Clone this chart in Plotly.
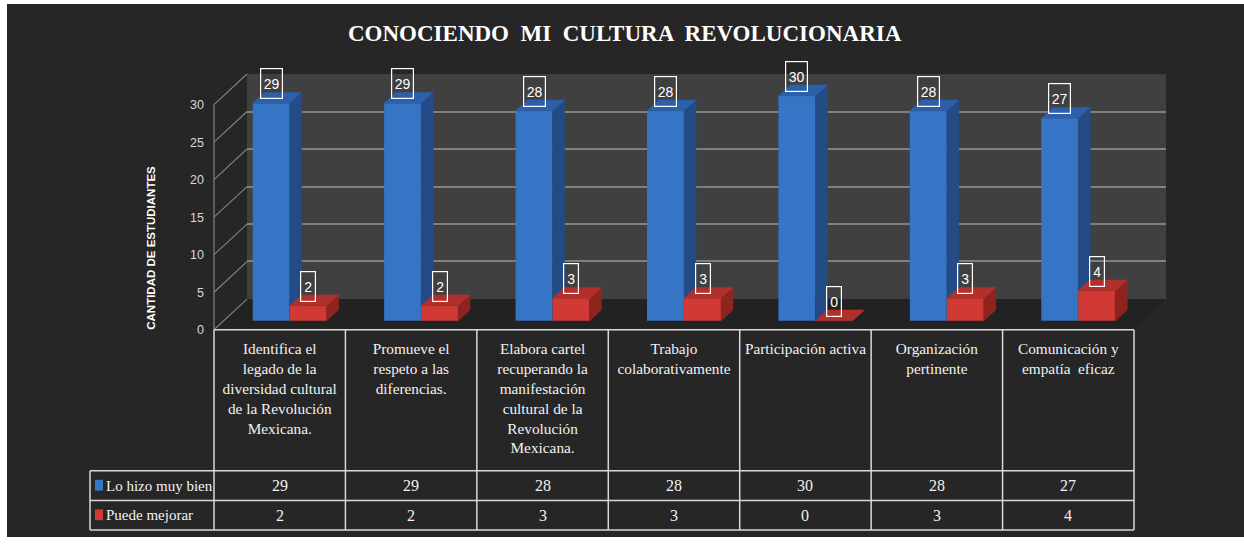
import plotly.graph_objects as go

# ---------------- data ----------------
categories = [
    "Identifica el<br>legado de la<br>diversidad cultural<br>de la Revolución<br>Mexicana.",
    "Promueve el<br>respeto a las<br>diferencias.",
    "Elabora cartel<br>recuperando la<br>manifestación<br>cultural de la<br>Revolución<br>Mexicana.",
    "Trabajo<br>colaborativamente",
    "Participación activa",
    "Organización<br>pertinente",
    "Comunicación y<br>empatía  eficaz",
]
series_names = ["Lo hizo muy bien", "Puede mejorar"]
lo_hizo_muy_bien = [29, 29, 28, 28, 30, 28, 27]
puede_mejorar = [2, 2, 3, 3, 0, 3, 4]
y_tick_values = [0, 5, 10, 15, 20, 25, 30]
title_text = "CONOCIENDO  MI  CULTURA  REVOLUCIONARIA"
y_title_text = "CANTIDAD DE ESTUDIANTES"

# ---------------- geometry helpers ----------------
W, H = 1244, 544
def X(p):
    return p / W
def Y(p):
    return 1 - p / H

S = 7.6                 # px per unit
COL = 920 / 7           # px per category
BAR_W = 37 / COL
OFFSETS = [-27 / COL, 10 / COL]
DX = 12 / COL
DY = 11 / S

styles = [
    dict(front="#3675c5", side="#234c86", top="#2c60aa"),
    dict(front="#d13a34", side="#8e2420", top="#b2302b"),
]
BG = "#262626"
WALL = "#404040"
GRID = "#808080"
FLOOR = "#222222"
TXT = "#f2f2f2"
TABLE_LINE = "#d9d9d9"

fig = go.Figure()

# back wall subplot (x / y) -> gridlines
fig.add_trace(go.Scatter(x=[None], y=[None], xaxis="x", yaxis="y",
                         showlegend=False, hoverinfo="skip"))
# front value axis (x2 / y3) -> tick labels
fig.add_trace(go.Scatter(x=[None], y=[None], xaxis="x2", yaxis="y3",
                         showlegend=False, hoverinfo="skip"))

all_series = [lo_hizo_muy_bien, puede_mejorar]
for k, (vals, off, st, name) in enumerate(zip(all_series, OFFSETS, styles, series_names)):
    xs = list(range(len(vals)))
    fig.add_trace(go.Bar(
        x=xs, y=vals, width=BAR_W, offset=off, name=name,
        marker=dict(color=st["front"], line=dict(width=0)),
        xaxis="x2", yaxis="y2", showlegend=False, hoverinfo="skip",
        zorder=2 * k,
    ))
    sx, sy, tx, ty = [], [], [], []
    for i, v in enumerate(vals):
        x0 = i + off
        x1 = x0 + BAR_W
        sx += [x1, x1 + DX, x1 + DX, x1, x1, None]
        sy += [0, DY, v + DY, v, 0, None]
        tx += [x0, x1, x1 + DX, x0 + DX, x0, None]
        ty += [v, v, v + DY, v + DY, v, None]
    fig.add_trace(go.Scatter(x=sx, y=sy, fill="toself", mode="lines",
                             line=dict(width=0.5, color=st["side"]), fillcolor=st["side"],
                             xaxis="x2", yaxis="y2", showlegend=False, hoverinfo="skip",
                             zorder=2 * k + 1))
    fig.add_trace(go.Scatter(x=tx, y=ty, fill="toself", mode="lines",
                             line=dict(width=0.5, color=st["top"]), fillcolor=st["top"],
                             xaxis="x2", yaxis="y2", showlegend=False, hoverinfo="skip",
                             zorder=2 * k + 1))

# ---------------- shapes ----------------
shapes = []
# dark chart background (white strip at top/left like the reference)
shapes.append(dict(type="rect", xref="paper", yref="paper", x0=X(7), x1=1, y0=0, y1=Y(4),
                   fillcolor=BG, line=dict(width=0), layer="below"))
# back wall
shapes.append(dict(type="rect", xref="x domain", yref="y domain", x0=0, x1=1, y0=0, y1=1,
                   fillcolor=WALL, line=dict(width=0), layer="below"))
# floor
floor_path = "M {} {} L {} {} L {} {} L {} {} Z".format(
    X(214), Y(334), X(1134), Y(334), X(1166), Y(303), X(247), Y(303))
shapes.append(dict(type="path", xref="paper", yref="paper", path=floor_path,
                   fillcolor=FLOOR, line=dict(width=0), layer="below"))
# left side wall lines
shapes.append(dict(type="line", xref="paper", yref="paper", x0=X(214), x1=X(214),
                   y0=Y(334), y1=Y(334 - 30 * S), line=dict(color=GRID, width=1.2), layer="below"))
for t in y_tick_values:
    shapes.append(dict(type="line", xref="paper", yref="paper",
                       x0=X(214), y0=Y(334 - t * S), x1=X(247), y1=Y(303 - t * S),
                       line=dict(color=GRID, width=1.2), layer="below"))

# table grid
tl = dict(color=TABLE_LINE, width=1.5)
col_edges = [214 + COL * j for j in range(len(categories) + 1)]
for j, xe in enumerate(col_edges):
    shapes.append(dict(type="line", xref="paper", yref="paper", x0=X(xe), x1=X(xe),
                       y0=Y(334), y1=Y(537), line=tl))
shapes.append(dict(type="line", xref="paper", yref="paper", x0=X(90), x1=X(90),
                   y0=Y(477), y1=Y(537), line=tl))
shapes.append(dict(type="line", xref="paper", yref="paper", x0=X(214), x1=X(1134),
                   y0=Y(334), y1=Y(334), line=tl))
for yy in (477, 507, 537):
    shapes.append(dict(type="line", xref="paper", yref="paper", x0=X(90), x1=X(1134),
                       y0=Y(yy), y1=Y(yy), line=tl))
# legend keys
row_centers = [492, 522]
for k, st in enumerate(styles):
    shapes.append(dict(type="rect", xref="paper", yref="paper",
                       x0=X(95), x1=X(103), y0=Y(row_centers[k] + 5), y1=Y(row_centers[k] - 6),
                       fillcolor=st["front"], line=dict(width=0)))

# ---------------- annotations ----------------
ann = []
ann.append(dict(text="<b>" + title_text + "</b>", xref="paper", yref="paper",
                x=X(625), y=Y(34), xanchor="center", yanchor="middle", showarrow=False,
                font=dict(family="Liberation Serif", size=23, color="#ffffff")))
ann.append(dict(text="<b>" + y_title_text + "</b>", xref="paper", yref="paper",
                x=X(151), y=Y(251), xanchor="center", yanchor="middle",
                showarrow=False, textangle=-90,
                font=dict(family="Liberation Sans", size=11.5, color="#ffffff")))
# data labels
for k, (vals, off) in enumerate(zip(all_series, OFFSETS)):
    for i, v in enumerate(vals):
        s = str(v)
        ann.append(dict(text=s, xref="x2", yref="y2", x=i + off + BAR_W / 2, y=v,
                        xanchor="center", yanchor="bottom", yshift=4, showarrow=False,
                        width=5 + 7 * len(s), height=27, borderpad=1,
                        bordercolor="#ffffff", borderwidth=1.2,
                        font=dict(family="Liberation Sans", size=14, color="#ffffff")))
# table values + legend texts
for k, (vals, name) in enumerate(zip(all_series, series_names)):
    ann.append(dict(text=name, xref="paper", yref="paper", x=X(104), y=Y(row_centers[k]),
                    xanchor="left", yanchor="middle", showarrow=False,
                    font=dict(family="Liberation Serif", size=15, color=TXT)))
    for i, v in enumerate(vals):
        ann.append(dict(text=str(v), xref="x2", yref="paper", x=i, y=Y(row_centers[k]),
                        xanchor="center", yanchor="middle", showarrow=False,
                        font=dict(family="Liberation Serif", size=16, color=TXT)))

fig.update_layout(
    width=W, height=H,
    margin=dict(l=0, r=0, t=0, b=0),
    paper_bgcolor="#ffffff",
    plot_bgcolor="rgba(0,0,0,0)",
    barmode="overlay",
    showlegend=False,
    shapes=shapes,
    annotations=ann,
    xaxis=dict(domain=[X(247), X(1166)], range=[0, 1], showgrid=False, zeroline=False,
               showticklabels=False, showline=False, fixedrange=True),
    yaxis=dict(domain=[Y(303), Y(75)], range=[-0.02, 30.02], anchor="x",
               tickvals=y_tick_values, showticklabels=False, showgrid=True,
               gridcolor=GRID, gridwidth=1.6, zeroline=False, showline=False, fixedrange=True),
    xaxis2=dict(domain=[X(214), X(1134)], range=[-0.5, len(categories) - 0.5], anchor="y2",
                tickvals=list(range(len(categories))), ticktext=categories,
                showgrid=False, zeroline=False, showline=False, ticks="",
                ticklabelstandoff=8,
                tickfont=dict(family="Liberation Serif", size=15.3, color=TXT), fixedrange=True),
    yaxis2=dict(domain=[Y(334), Y(60)], range=[(325 - 334) / S, (325 - 60) / S], anchor="x2",
                showgrid=False, zeroline=False, showticklabels=False, showline=False,
                fixedrange=True),
    yaxis3=dict(overlaying="y2", anchor="x2", side="left",
                range=[0, (334 - 60) / S], tickvals=y_tick_values,
                showgrid=False, zeroline=False, showline=False, ticks="",
                showticklabels=True, ticklabelstandoff=9,
                tickfont=dict(family="Liberation Sans", size=12.5, color="#d9d9d9"),
                fixedrange=True),
)

fig.write_html("out.html",
               config={"displayModeBar": False},
               post_script="document.body.style.margin='0';document.body.style.overflow='hidden';")
